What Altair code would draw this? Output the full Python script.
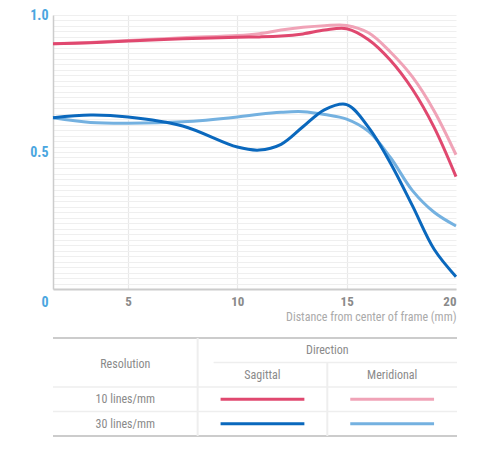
import altair as alt
import pandas as pd

FONT = "Liberation Sans Narrow, Roboto Condensed, Arial Narrow, Roboto"

# MTF curves
distance = [0, 2.5, 5, 7.5, 10, 11, 12, 13, 14, 15, 16, 17, 18, 19, 20]
sagittal_10 = [0.895, 0.899, 0.905, 0.913, 0.919, 0.920, 0.923, 0.931, 0.945, 0.950, 0.910, 0.835, 0.730, 0.590, 0.410]
meridional_10 = [0.895, 0.900, 0.907, 0.917, 0.925, 0.932, 0.945, 0.955, 0.961, 0.962, 0.935, 0.865, 0.775, 0.650, 0.490]
sagittal_30 = [0.625, 0.635, 0.628, 0.595, 0.518, 0.507, 0.528, 0.592, 0.655, 0.673, 0.590, 0.460, 0.305, 0.145, 0.045]
meridional_30 = [0.625, 0.608, 0.605, 0.610, 0.628, 0.638, 0.645, 0.647, 0.637, 0.620, 0.575, 0.480, 0.360, 0.280, 0.230]

series = {
    'S10': sagittal_10,
    'M10': meridional_10,
    'S30': sagittal_30,
    'M30': meridional_30,
}
series_colors = {'S10': '#e0486f', 'M10': '#f0a3b7', 'S30': '#0a68bd', 'M30': '#74b1e0'}

# table (key) below the chart
resolutions = ['10 lines/mm', '30 lines/mm']
directions = ['Sagittal', 'Meridional']
col_edges = [0, 145, 275, 405]

rows = []
for name, vals in series.items():
    for d, v in zip(distance, vals):
        rows.append({'distance': d, 'mtf': v, 'series': name,
                     'kind': 'dark' if name.startswith('S') else 'light'})
curves = pd.DataFrame(rows)

grid_values = [round(i * 0.02, 2) for i in range(51)]

x_enc = alt.X(
    'distance:Q',
    scale=alt.Scale(domain=[0, 5, 20], range=[0, 75, 403], nice=False),
    axis=alt.Axis(
        values=[5, 10, 15, 20], ticks=False, grid=True,
        gridColor={'condition': {'test': 'datum.value == 20', 'value': 'transparent'}, 'value': '#e9e9e9'},
        gridWidth=1.2,
        domainColor='#cccccc', domainWidth=2,
        labelColor='#8a8a8a', labelFont=FONT, labelFontSize=13, labelFontWeight='bold',
        labelPadding=6,
        title='Distance from center of frame (mm)', titleAnchor='end',
        titleColor='#aaaaaa', titleFont=FONT, titleFontSize=12, titleFontWeight='normal',
        titlePadding=3,
    ),
)
y_enc = alt.Y(
    'mtf:Q',
    scale=alt.Scale(domain=[0, 1], nice=False),
    axis=alt.Axis(
        values=grid_values, ticks=False, labelOverlap=False,
        labelExpr="datum.value == 0 ? '0' : datum.value == 0.5 ? '0.5' : datum.value == 1 ? '1.0' : ''",
        labelBaseline={'condition': {'test': 'datum.value == 0', 'value': 'top'}, 'value': 'middle'},
        labelOffset={'condition': {'test': 'datum.value == 0', 'value': 6}, 'value': 0},
        gridColor='#efefef', gridWidth=1,
        domainColor='#cccccc', domainWidth=1.5,
        labelColor='#4aa6e0', labelFont=FONT, labelFontSize=14, labelFontWeight='bold',
        labelPadding=5, minExtent=45, title=None,
    ),
)

base = alt.Chart(curves).mark_line(strokeWidth=3, interpolate='catmull-rom').encode(
    x=x_enc,
    y=y_enc,
    color=alt.Color('series:N', scale=alt.Scale(domain=list(series_colors),
                                                range=list(series_colors.values())),
                    legend=None),
)
main = alt.layer(
    base.transform_filter(alt.datum.kind == 'light'),
    base.transform_filter(alt.datum.kind == 'dark'),
).properties(width=403, height=274)

# ---- table ----
centers = [(a + b) / 2 for a, b in zip(col_edges[:-1], col_edges[1:])]
texts = pd.DataFrame(
    [{'label': 'Resolution', 'x': centers[0], 'y': 1.05},
     {'label': 'Direction', 'x': (col_edges[1] + col_edges[3]) / 2, 'y': 0.5}]
    + [{'label': d, 'x': centers[i + 1], 'y': 1.5} for i, d in enumerate(directions)]
    + [{'label': r, 'x': centers[0], 'y': 2.5 + i} for i, r in enumerate(resolutions)]
)
rules = pd.DataFrame([
    {'x': col_edges[0], 'x2': col_edges[3], 'y': 0, 'y2': 0, 'c': '#cccccc', 'w': 2},
    {'x': col_edges[0], 'x2': col_edges[3], 'y': 4, 'y2': 4, 'c': '#cccccc', 'w': 2},
    {'x': col_edges[0], 'x2': col_edges[3], 'y': 2, 'y2': 2, 'c': '#eeeeee', 'w': 1.5},
    {'x': col_edges[0], 'x2': col_edges[3], 'y': 3, 'y2': 3, 'c': '#eeeeee', 'w': 1.5},
    {'x': col_edges[1] + 16, 'x2': col_edges[3], 'y': 1, 'y2': 1, 'c': '#eeeeee', 'w': 1.5},
    {'x': col_edges[1], 'x2': col_edges[1], 'y': 0, 'y2': 4, 'c': '#eeeeee', 'w': 2},
    {'x': col_edges[2], 'x2': col_edges[2], 'y': 1, 'y2': 4, 'c': '#eeeeee', 'w': 2},
])
swatches = pd.DataFrame([
    {'x': centers[1 + j] - 42, 'x2': centers[1 + j] + 42, 'y': 2.5 + i,
     'c': series_colors[('S' if j == 0 else 'M') + r.split()[0]]}
    for i, r in enumerate(resolutions) for j in range(2)
])

tx = alt.Scale(domain=[0, 405], nice=False)
ty = alt.Scale(domain=[0, 4], reverse=True, nice=False)

table_rules = alt.Chart(rules).mark_rule().encode(
    x=alt.X('x:Q', scale=tx, axis=None), x2='x2',
    y=alt.Y('y:Q', scale=ty, axis=None), y2='y2',
    color=alt.Color('c:N', scale=None), strokeWidth=alt.StrokeWidth('w:Q', scale=None),
)
table_swatches = alt.Chart(swatches).mark_rule(strokeWidth=3).encode(
    x=alt.X('x:Q', scale=tx, axis=None), x2='x2',
    y=alt.Y('y:Q', scale=ty, axis=None),
    color=alt.Color('c:N', scale=None),
)
table_text = alt.Chart(texts).mark_text(
    font=FONT, fontSize=12, color='#8a8a8a', baseline='middle', align='center'
).encode(
    x=alt.X('x:Q', scale=tx, axis=None),
    y=alt.Y('y:Q', scale=ty, axis=None),
    text='label:N',
)
table = alt.layer(table_rules, table_swatches, table_text).properties(width=404, height=98)

chart = alt.vconcat(main, table, spacing=15).properties(
    padding={'left': 0, 'top': 0, 'right': 5, 'bottom': 5}
).configure_view(stroke=None)

chart.save("out.html", embed_options={"renderer": "svg", "actions": False})
